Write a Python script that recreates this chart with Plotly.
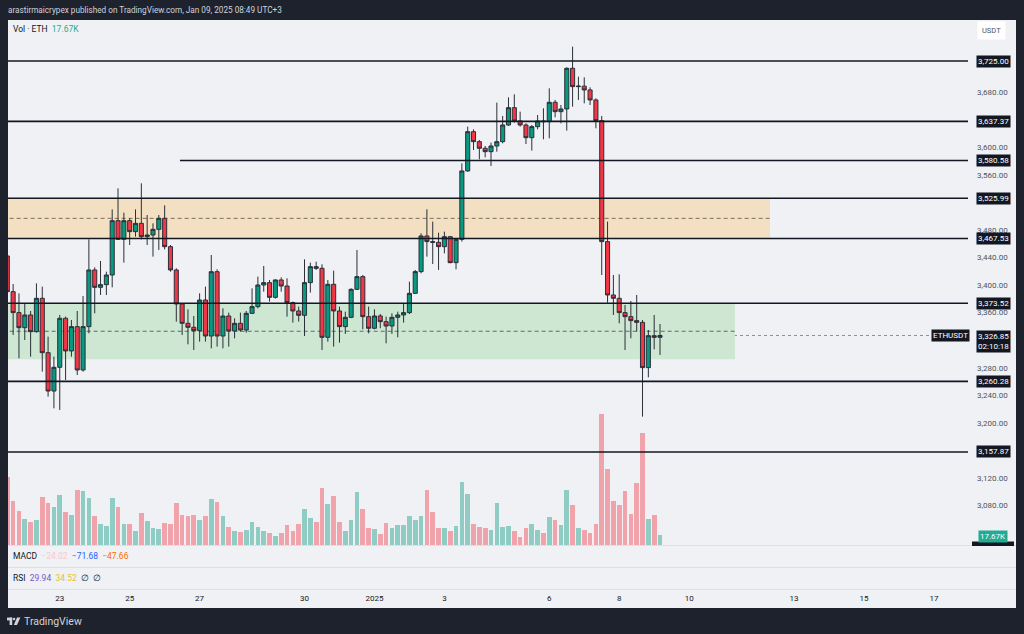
import pandas as pd
import plotly.graph_objects as go

# ---------------- data (ETHUSDT, 4h candles) ----------------
start_time = "2024-12-21 12:00"
n_bars = 113

open_ = [3442.2, 3390.4, 3360.0, 3338.2, 3356.6, 3332.4, 3380.8, 3301.9, 3246.3, 3280.7,
         3351.8, 3304.4, 3339.7, 3276.8, 3339.7, 3421.9, 3396.7, 3400.6, 3414.6, 3493.4,
         3466.3, 3493.4, 3477.5, 3489.5, 3470.2, 3472.6, 3480.8, 3496.8, 3455.7, 3421.9,
         3372.5, 3344.5, 3338.7, 3333.9, 3378.3, 3326.1, 3419.4, 3326.1, 3355.1, 3333.4,
         3344.5, 3334.8, 3359.0, 3368.7, 3400.1, 3403.5, 3382.2, 3407.4, 3398.6, 3374.5,
         3362.4, 3356.1, 3403.5, 3426.7, 3424.3, 3324.2, 3401.1, 3362.4, 3339.7, 3353.2,
         3393.8, 3412.2, 3354.2, 3337.3, 3355.2, 3346.9, 3340.6, 3353.2, 3356.6, 3360.0,
         3388.0, 3419.5, 3471.2, 3463.0, 3462.0, 3455.7, 3470.2, 3432.5, 3466.3, 3565.5,
         3622.5, 3608.0, 3598.4, 3593.5, 3601.7, 3608.0, 3632.2, 3657.3, 3638.0, 3632.2,
         3613.8, 3629.8, 3638.0, 3637.0, 3665.1, 3651.5, 3655.4, 3714.4, 3687.8, 3688.5,
         3683.0, 3668.5, 3638.5, 3463.0, 3385.6, 3380.8, 3360.0, 3354.2, 3348.4, 3345.9,
         3280.2, 3326.6, 3324.2]
high = [3448.0, 3401.5, 3388.0, 3372.5, 3362.4, 3402.5, 3397.7, 3325.2, 3296.1, 3356.6,
        3354.2, 3349.3, 3362.4, 3384.1, 3466.3, 3425.7, 3434.9, 3419.4, 3509.8, 3540.3,
        3505.0, 3496.8, 3509.8, 3547.6, 3501.6, 3489.5, 3501.6, 3515.6, 3458.1, 3424.3,
        3373.5, 3364.8, 3355.1, 3388.0, 3397.7, 3443.6, 3422.8, 3366.2, 3360.0, 3351.8,
        3360.0, 3362.4, 3395.3, 3412.2, 3427.7, 3407.4, 3408.3, 3411.2, 3409.8, 3376.0,
        3368.7, 3437.3, 3432.5, 3433.9, 3430.1, 3407.4, 3420.9, 3368.7, 3361.4, 3395.3,
        3450.9, 3414.6, 3368.7, 3364.8, 3358.0, 3354.2, 3359.0, 3361.4, 3373.5, 3405.0,
        3421.9, 3475.0, 3509.9, 3492.0, 3476.0, 3477.5, 3471.2, 3467.8, 3576.6, 3629.8,
        3625.9, 3610.4, 3601.7, 3606.6, 3664.6, 3645.3, 3672.3, 3676.7, 3651.5, 3634.6,
        3632.2, 3646.7, 3656.4, 3685.4, 3668.5, 3661.2, 3715.9, 3745.8, 3702.3, 3701.3,
        3686.8, 3670.9, 3645.3, 3492.0, 3414.6, 3415.6, 3371.1, 3376.9, 3385.6, 3349.4,
        3334.8, 3356.6, 3343.5]
low = [3386.0, 3327.6, 3293.7, 3320.3, 3296.1, 3331.0, 3274.4, 3238.1, 3221.2, 3218.8,
       3262.3, 3296.1, 3269.5, 3274.4, 3330.0, 3359.0, 3385.6, 3385.6, 3396.7, 3465.4,
       3432.5, 3458.1, 3470.2, 3466.3, 3458.1, 3441.2, 3450.9, 3451.8, 3419.4, 3346.9,
       3327.6, 3314.0, 3305.8, 3317.9, 3317.9, 3308.2, 3310.7, 3308.2, 3310.7, 3322.7,
       3332.4, 3330.9, 3358.0, 3366.2, 3390.4, 3376.0, 3380.3, 3390.4, 3354.2, 3345.5,
       3347.0, 3326.1, 3389.0, 3421.9, 3305.8, 3317.9, 3310.7, 3316.5, 3329.1, 3352.0,
       3393.0, 3335.8, 3330.0, 3335.8, 3337.3, 3315.5, 3329.1, 3324.2, 3345.5, 3358.0,
       3387.0, 3417.0, 3441.2, 3430.6, 3421.9, 3446.0, 3431.6, 3422.8, 3463.0, 3564.5,
       3595.9, 3582.4, 3585.3, 3572.7, 3593.5, 3605.6, 3630.8, 3635.6, 3629.8, 3604.6,
       3595.0, 3625.9, 3611.4, 3612.9, 3643.3, 3634.6, 3624.0, 3658.8, 3668.5, 3663.6,
       3661.2, 3627.4, 3414.6, 3374.5, 3356.6, 3344.5, 3305.8, 3322.8, 3332.4, 3209.1,
       3266.2, 3306.8, 3298.6]
close = [3390.4, 3360.0, 3338.2, 3356.6, 3332.4, 3380.8, 3301.9, 3246.3, 3280.7, 3351.8,
         3304.4, 3339.7, 3276.8, 3339.7, 3421.9, 3396.7, 3400.6, 3414.6, 3493.4, 3466.3,
         3493.4, 3477.5, 3489.5, 3470.2, 3472.6, 3480.8, 3496.8, 3455.7, 3421.9, 3372.5,
         3344.5, 3338.7, 3333.9, 3378.3, 3326.1, 3419.4, 3326.1, 3355.1, 3333.4, 3344.5,
         3334.8, 3359.0, 3368.7, 3400.1, 3403.5, 3382.2, 3407.4, 3398.6, 3374.5, 3362.4,
         3356.1, 3403.5, 3426.7, 3424.3, 3324.2, 3401.1, 3362.4, 3339.7, 3353.2, 3393.8,
         3412.2, 3354.2, 3337.3, 3355.2, 3346.9, 3340.6, 3353.2, 3356.6, 3360.0, 3388.0,
         3419.5, 3471.2, 3463.0, 3462.0, 3455.7, 3470.2, 3432.5, 3466.3, 3565.5, 3622.5,
         3608.0, 3598.4, 3593.5, 3601.7, 3608.0, 3632.2, 3657.3, 3638.0, 3632.2, 3613.8,
         3629.8, 3638.0, 3637.0, 3665.1, 3651.5, 3655.4, 3714.4, 3687.8, 3688.5, 3683.0,
         3668.5, 3638.5, 3463.0, 3385.6, 3380.8, 3360.0, 3354.2, 3348.4, 3345.9, 3280.2,
         3326.6, 3324.2, 3326.85]
volume_k = [119.6, 77.7, 60.1, 45.9, 40.1, 44.2, 84.8, 74.2, 66.6, 88.4,
            58.3, 53.0, 97.2, 95.4, 83.0, 51.2, 37.1, 33.6, 83.0, 66.6,
            37.1, 36.6, 24.2, 56.0, 42.4, 29.5, 28.8, 38.9, 37.1, 74.2,
            52.5, 50.7, 53.5, 44.2, 50.7, 81.3, 75.5, 50.7, 31.8, 25.3,
            23.5, 27.0, 40.1, 32.3, 24.7, 20.7, 15.9, 20.7, 35.3, 24.7,
            36.6, 63.1, 48.2, 41.2, 101.2, 72.4, 86.1, 40.1, 24.2, 43.6,
            93.1, 63.6, 30.6, 28.3, 19.4, 38.9, 30.6, 35.3, 35.3, 50.7,
            44.7, 50.7, 97.7, 58.8, 30.6, 30.6, 25.3, 33.0, 111.3, 89.6,
            37.6, 32.3, 29.5, 27.0, 74.2, 31.8, 34.1, 24.2, 14.7, 29.5,
            37.6, 27.0, 21.7, 49.5, 44.2, 35.3, 97.2, 70.1, 29.5, 27.0,
            20.7, 37.6, 231.5, 133.8, 78.3, 70.7, 94.9, 54.8, 109.0, 197.9,
            46.5, 52.5, 17.67]

# horizontal levels drawn on the chart
full_levels = [3725.00, 3637.37, 3525.99, 3467.53, 3373.52, 3260.28, 3157.87]
partial_level = 3580.58
partial_level_start = "2024-12-26 10:30"
supply_zone = (3467.53, 3525.99)
supply_zone_end = "2025-01-12 07:30"
demand_zone = (3292.5, 3373.52)
demand_zone_end = "2025-01-11 07:25"
last_price = 3326.85
countdown = "02:10:18"
last_volume_label = "17.67K"

tick_dates = ["2024-12-23", "2024-12-25", "2024-12-27", "2024-12-30", "2025-01-01",
              "2025-01-03", "2025-01-06", "2025-01-08", "2025-01-10", "2025-01-13",
              "2025-01-15", "2025-01-17"]
tick_text = ["23", "25", "27", "30", "2025", "3", "6", "8", "10", "13", "15", "17"]
price_ticks = [3680, 3600, 3560, 3480, 3440, 3400, 3360, 3280, 3240, 3200, 3120, 3080]

macd_vals = ("−24.02", "−71.68", "−47.66")
rsi_vals = ("29.94", "34.52")

# ---------------- styling ----------------
BG = "#eff1f4"
DARK = "#1e222d"
UP = "#089981"
DOWN = "#f23645"
EDGE = "#2b2f38"
UPV = "rgba(8,153,129,0.42)"
DNV = "rgba(242,54,69,0.42)"
TXT = "#131722"
FONT = "Roboto"

W, H = 1024, 634
ML, MR, MT, MB = 8, 56, 20, 44
PW, PH = W - ML - MR, H - MT - MB


def PX(px):
    return (px - ML) / PW


def PY(py):
    return (H - MB - py) / PH


times = pd.date_range(start_time, periods=n_bars, freq="4h")
bar_ms = 4 * 3600 * 1000
x_left = times[0] + pd.Timedelta(hours=0.48)
x_right = times[0] + pd.Timedelta(hours=659.4)

# price scale: main pane from py 20 to 545
y_lo, y_hi = 3022.94, 3784.47
vol_max = 927.7

fig = go.Figure()

vol_colors = [UPV if c >= o else DNV for o, c in zip(open_, close)]
fig.add_trace(go.Bar(x=times, y=volume_k, width=bar_ms * 0.8,
                     marker=dict(color=vol_colors, line=dict(width=0)),
                     yaxis="y2", hoverinfo="skip", showlegend=False))

fig.add_trace(go.Candlestick(
    x=times, open=open_, high=high, low=low, close=close,
    increasing=dict(fillcolor=UP, line=dict(color=EDGE, width=1)),
    decreasing=dict(fillcolor=DOWN, line=dict(color=EDGE, width=1)),
    whiskerwidth=0, showlegend=False, yaxis="y"))

shapes = []
# zones
shapes.append(dict(type="rect", xref="x", yref="y", x0=times[0] - pd.Timedelta(hours=8),
                   x1=supply_zone_end, y0=supply_zone[0], y1=supply_zone[1],
                   fillcolor="#f3dfc1", line=dict(width=0), layer="below"))
shapes.append(dict(type="rect", xref="x", yref="y", x0=times[0] - pd.Timedelta(hours=8),
                   x1=demand_zone_end, y0=demand_zone[0], y1=demand_zone[1],
                   fillcolor="#cde7d3", line=dict(width=0), layer="below"))
# zone midlines
shapes.append(dict(type="line", xref="x", yref="y", x0=times[0] - pd.Timedelta(hours=8),
                   x1=supply_zone_end, y0=sum(supply_zone) / 2, y1=sum(supply_zone) / 2,
                   line=dict(color="#7d705c", width=1, dash="4px,3px"), layer="below"))
shapes.append(dict(type="line", xref="x", yref="y", x0=times[0] - pd.Timedelta(hours=8),
                   x1=demand_zone_end, y0=sum(demand_zone) / 2, y1=sum(demand_zone) / 2,
                   line=dict(color="#5d6b61", width=1, dash="4px,3px"), layer="below"))
# last price dotted line
shapes.append(dict(type="line", xref="paper", yref="y", x0=0, x1=PX(932),
                   y0=last_price, y1=last_price,
                   line=dict(color="#8a8d96", width=1, dash="dot"), layer="below"))
# horizontal levels
for lv in full_levels:
    shapes.append(dict(type="line", xref="paper", yref="y", x0=0, x1=1, y0=lv, y1=lv,
                       line=dict(color=TXT, width=1.6), layer="above"))
shapes.append(dict(type="line", xref="x", yref="y", x0=partial_level_start, x1=x_right,
                   y0=partial_level, y1=partial_level,
                   line=dict(color=TXT, width=1.6), layer="above"))
# pane separators
for py in (545.5, 567.5, 589.5):
    shapes.append(dict(type="line", xref="paper", yref="paper", x0=PX(8), x1=PX(1016),
                       y0=PY(py), y1=PY(py), line=dict(color="#dcdfe5", width=1),
                       layer="above"))
# partially hidden price label under volume label
shapes.append(dict(type="rect", xref="paper", yref="paper", x0=PX(972), x1=PX(1014),
                   y0=PY(546), y1=PY(541.5), fillcolor=TXT, line=dict(width=0),
                   layer="above"))
# dark frame
for (a, b, c, d) in [(0, 1024, 0, 20), (0, 8, 0, 634), (1016, 1024, 0, 634), (0, 1024, 608, 634)]:
    shapes.append(dict(type="rect", xref="paper", yref="paper", x0=PX(a), x1=PX(b),
                       y0=PY(d), y1=PY(c), fillcolor=DARK, line=dict(width=0),
                       layer="above"))
# TradingView logo
shapes.append(dict(type="rect", xref="paper", yref="paper", x0=PX(7), x1=PX(12.2),
                   y0=PY(620.4), y1=PY(617.6), fillcolor="#d1d4dc", line=dict(width=0), layer="above"))
shapes.append(dict(type="rect", xref="paper", yref="paper", x0=PX(9.6), x1=PX(12.2),
                   y0=PY(625), y1=PY(617.6), fillcolor="#d1d4dc", line=dict(width=0), layer="above"))
shapes.append(dict(type="circle", xref="paper", yref="paper", x0=PX(12.9), x1=PX(15.3),
                   y0=PY(620.2), y1=PY(617.8), fillcolor="#d1d4dc", line=dict(width=0), layer="above"))
shapes.append(dict(type="path", xref="paper", yref="paper",
                   path=f"M {PX(17.0)} {PY(617.6)} L {PX(20.4)} {PY(617.6)} L {PX(17.0)} {PY(625)} L {PX(13.8)} {PY(625)} Z",
                   fillcolor="#d1d4dc", line=dict(width=0), layer="above"))

annotations = []
lab_x = PX(993)
for lv in full_levels + [partial_level]:
    annotations.append(dict(xref="paper", yref="y", x=lab_x, y=lv, text=f"{lv:,.2f}",
                            showarrow=False, xanchor="center", yanchor="middle",
                            bgcolor=TXT, borderpad=1,
                            font=dict(family=FONT, size=8, color="white")))
annotations.append(dict(xref="paper", yref="y", x=lab_x, y=last_price + 7.5,
                        text=f"{last_price:,.2f}<br>{countdown}", showarrow=False,
                        xanchor="center", yanchor="top", bgcolor=TXT, borderpad=1,
                        font=dict(family=FONT, size=8, color="white")))
annotations.append(dict(xref="paper", yref="y", x=PX(950), y=last_price, text="ETHUSDT",
                        showarrow=False, xanchor="center", yanchor="middle", bgcolor=TXT,
                        borderpad=1, font=dict(family=FONT, size=8, color="white")))
annotations.append(dict(xref="paper", yref="y2", x=lab_x, y=volume_k[-1] * 0.9,
                        text=last_volume_label, showarrow=False, xanchor="center",
                        yanchor="middle", bgcolor="#22ab94", borderpad=1,
                        font=dict(family=FONT, size=8, color="white")))
annotations.append(dict(xref="paper", yref="paper", x=PX(992), y=PY(30.5), text="USDT",
                        showarrow=False, xanchor="center", yanchor="middle", bgcolor="white",
                        borderpad=4, font=dict(family=FONT, size=7.5, color="#50535e")))
annotations.append(dict(xref="paper", yref="paper", x=PX(6), y=PY(10),
                        text="arastirmaicrypex published on TradingView.com, Jan 09, 2025 08:49 UTC+3",
                        showarrow=False, xanchor="left", yanchor="middle",
                        font=dict(family=FONT, size=8.2, color="#d1d4dc")))
annotations.append(dict(xref="paper", yref="paper", x=PX(11), y=PY(28.5),
                        text=f"Vol · ETH  <span style='color:#22ab94'>{last_volume_label}</span>",
                        showarrow=False, xanchor="left", yanchor="middle",
                        font=dict(family=FONT, size=8.5, color=TXT)))
annotations.append(dict(xref="paper", yref="paper", x=PX(11), y=PY(556),
                        text=(f"MACD  <span style='color:#f8c9cc'>{macd_vals[0]}</span>  "
                              f"<span style='color:#2962ff'>{macd_vals[1]}</span>  "
                              f"<span style='color:#ff6d00'>{macd_vals[2]}</span>"),
                        showarrow=False, xanchor="left", yanchor="middle",
                        font=dict(family=FONT, size=8.5, color=TXT)))
annotations.append(dict(xref="paper", yref="paper", x=PX(11), y=PY(578),
                        text=(f"RSI  <span style='color:#7e57c2'>{rsi_vals[0]}</span>  "
                              f"<span style='color:#e5c235'>{rsi_vals[1]}</span>  ∅  ∅"),
                        showarrow=False, xanchor="left", yanchor="middle",
                        font=dict(family=FONT, size=8.5, color=TXT)))
annotations.append(dict(xref="paper", yref="paper", x=PX(22), y=PY(621.5), text="TradingView",
                        showarrow=False, xanchor="left", yanchor="middle",
                        font=dict(family=FONT, size=10.5, color="#d1d4dc")))

fig.update_layout(
    width=W, height=H,
    margin=dict(l=ML, r=MR, t=MT, b=MB, pad=0),
    paper_bgcolor=BG, plot_bgcolor=BG,
    showlegend=False, boxgap=0.3, boxgroupgap=0.0, bargap=0,
    xaxis=dict(type="date", range=[x_left, x_right], rangeslider=dict(visible=False),
               showgrid=False, zeroline=False, showline=False, ticks="",
               tickvals=tick_dates, ticktext=tick_text, anchor="free", position=0,
               ticklabelstandoff=2,
               tickfont=dict(family=FONT, size=8, color=TXT)),
    yaxis=dict(domain=[PY(545), 1], range=[y_lo, y_hi], side="right", showgrid=False,
               zeroline=False, showline=False, ticks="", tickvals=price_ticks,
               tickformat=",.2f", ticklabelstandoff=8,
               tickfont=dict(family=FONT, size=8, color="#50535e")),
    yaxis2=dict(overlaying="y", range=[0, vol_max], visible=False, showgrid=False),
    shapes=shapes, annotations=annotations,
    font=dict(family=FONT),
)

fig.write_html("out.html", config={"displayModeBar": False},
               post_script="document.body.style.margin='0';document.body.style.overflow='hidden';")
